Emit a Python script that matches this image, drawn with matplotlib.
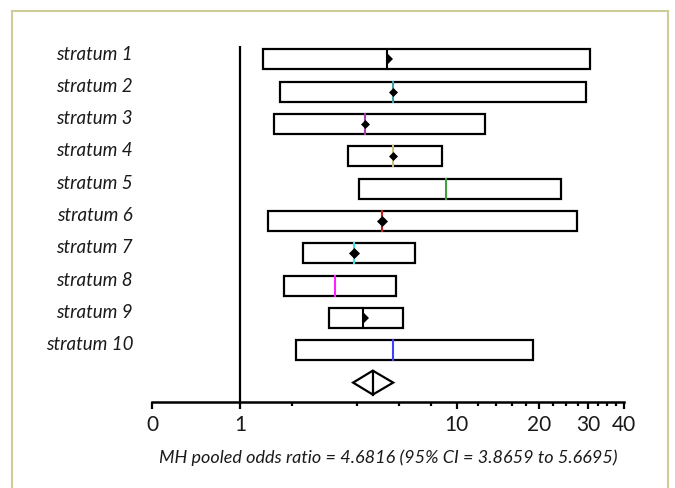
import numpy as np
import matplotlib
matplotlib.use('Agg')
import matplotlib.pyplot as plt
from matplotlib.patches import Rectangle, Polygon

plt.rcParams['font.family'] = ['Lato', 'DejaVu Sans']

# data
strata = ['stratum %d' % i for i in range(1, 11)]
odds_ratio = [5.34, 5.65, 4.33, 5.65, 9.08, 5.10, 3.89, 3.21, 4.25, 5.65]
ci_lower = [1.39, 1.73, 1.61, 3.67, 4.09, 1.49, 2.28, 1.82, 3.02, 2.10]
ci_upper = [30.3, 29.5, 12.7, 8.77, 23.9, 27.4, 6.90, 5.80, 6.19, 19.1]
pooled_or = 4.6816
pooled_lo = 3.8659
pooled_hi = 5.6695

major_ticks = [0, 1, 10, 20, 30, 40]
minor_ticks = [2, 4, 6, 8, 12, 14, 16, 18, 22.5, 25, 27.5, 32.5, 35, 37.5]

# styling per stratum
line_colors = ['black', '#40a0a8', '#a040a0', '#c8c080', '#40a040',
               '#c02020', '#40e0e0', '#ff20ff', 'black', '#4040ff']
diamond = ['half', 'full', 'full', 'full', None, 'full', 'full', None, 'half', None]
diamond_ms = [4.2, 4.2, 4.5, 4.0, 0, 5.2, 5.3, 0, 4.2, 0]

fig = plt.figure(figsize=(6.75, 4.89), dpi=100)
ax = fig.add_axes([152/675, 1-403/489, (624-152)/675, (403-47)/489])

fwd = lambda x: np.log10(np.asarray(x, dtype=float) + 1)
inv = lambda y: 10**np.asarray(y, dtype=float) - 1
ax.set_xscale('function', functions=(fwd, inv))
ax.set_xlim(0, 40)
ax.set_ylim(11.60, 0.583)

box_h = 0.62
for i, name in enumerate(strata):
    y = i + 1
    lo, hi, est = ci_lower[i], ci_upper[i], odds_ratio[i]
    ax.add_patch(Rectangle((lo, y - box_h/2), hi - lo, box_h, fill=False,
                           edgecolor='black', lw=1.6, zorder=2))
    ax.plot([est, est], [y - box_h/2, y + box_h/2], color=line_colors[i], lw=1.5, zorder=3)
    if diamond[i] == 'full':
        ax.plot([est], [y], marker='D', ms=diamond_ms[i], color='black', mew=0.5, zorder=4)
    elif diamond[i] == 'half':
        ax.plot([est], [y], marker='D', ms=diamond_ms[i]*1.5, color='black', mew=0,
                fillstyle='right', markerfacecoloralt='none', zorder=4)
    ax.text(-0.04, y - 0.03, name, transform=ax.get_yaxis_transform(),
            ha='right', va='baseline', fontsize=13.5, style='italic', color='#1a1a1a')

# pooled diamond
yp, hh = 11, 0.37
ax.add_patch(Polygon([(pooled_lo, yp), (pooled_or, yp - hh), (pooled_hi, yp), (pooled_or, yp + hh)],
                     closed=True, fill=False, edgecolor='black', lw=1.6, zorder=3))
ax.plot([pooled_or, pooled_or], [yp - hh, yp + hh], color='black', lw=1.6, zorder=3)

# line of no effect
ax.axvline(1, color='black', lw=1.6, zorder=1)

for s in ['top', 'right', 'left']:
    ax.spines[s].set_visible(False)
ax.spines['bottom'].set_linewidth(1.8)
ax.set_yticks([])
ax.set_xticks(major_ticks)
ax.set_xticklabels([str(t) for t in major_ticks])
ax.set_xticks(minor_ticks, minor=True)
ax.tick_params(axis='x', which='major', length=5, width=1.6, labelsize=15, pad=4,
               labelcolor='#1a1a1a')
ax.tick_params(axis='x', which='minor', length=3, width=1.6)
ax.set_xlabel('MH pooled odds ratio = 4.6816 (95% CI = 3.8659 to 5.6695)',
              fontsize=13, style='italic', labelpad=10, color='#1a1a1a')

# outer frame
fig.patches.append(Rectangle((12/675, -0.1), (668-12)/675, 1.1 - 12/489,
                             transform=fig.transFigure, fill=False,
                             edgecolor='#cccc99', lw=1.5))

fig.savefig('out.png', dpi=100)
